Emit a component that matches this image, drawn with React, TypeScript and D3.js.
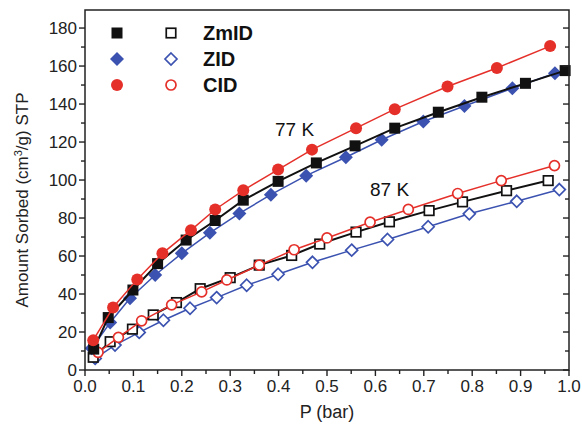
import React from "react";
import * as d3 from "d3";

const zmid77P = [0.018, 0.048, 0.099, 0.150, 0.209, 0.269, 0.327, 0.399, 0.478, 0.558, 0.640, 0.730, 0.820, 0.910, 0.992];
const zmid77V = [11, 27.6, 42.1, 56, 68.4, 78.7, 89.4, 99.3, 109, 118, 127.3, 135.7, 143.6, 150.9, 157.6];
const zid77P = [0.014, 0.052, 0.093, 0.145, 0.200, 0.258, 0.319, 0.384, 0.457, 0.539, 0.613, 0.699, 0.784, 0.883, 0.971];
const zid77V = [11.4, 25, 37.8, 50, 61.4, 72.2, 82.4, 92.3, 102.3, 112, 121.2, 130.8, 139, 148.3, 156.2];
const cid77P = [0.017, 0.058, 0.108, 0.160, 0.219, 0.269, 0.327, 0.399, 0.469, 0.560, 0.640, 0.749, 0.851, 0.961];
const cid77V = [15.7, 32.9, 47.7, 61.4, 73.6, 84.5, 94.6, 105.5, 116, 127.3, 137.3, 149.2, 159, 170.5];

const zmid87P = [0.017, 0.052, 0.098, 0.141, 0.189, 0.238, 0.300, 0.360, 0.427, 0.485, 0.560, 0.629, 0.711, 0.780, 0.871, 0.957];
const zmid87V = [6.7, 14.9, 21.5, 29, 35.5, 42.8, 48.6, 55.2, 60.3, 66.3, 72.6, 78, 83.9, 88.5, 94.4, 99.7];
const zid87P = [0.021, 0.062, 0.112, 0.162, 0.217, 0.272, 0.334, 0.399, 0.470, 0.551, 0.625, 0.709, 0.794, 0.892, 0.980];
const zid87V = [6.1, 13.1, 19.8, 26.2, 32.5, 38.1, 44.6, 50.4, 56.7, 63.1, 68.7, 75.4, 82.2, 88.8, 95];
const cid87P = [0.027, 0.069, 0.117, 0.179, 0.241, 0.293, 0.360, 0.432, 0.500, 0.589, 0.668, 0.770, 0.860, 0.970];
const cid87V = [9.3, 17.2, 25.9, 34.3, 41.1, 47.4, 55.2, 63.3, 69.5, 77.8, 84.5, 92.9, 99.7, 107.6];

const xTicks = [0, 0.1, 0.2, 0.3, 0.4, 0.5, 0.6, 0.7, 0.8, 0.9, 1.0];
const yTicks = [0, 20, 40, 60, 80, 100, 120, 140, 160, 180];
const legendNames = ["ZmID", "ZID", "CID"];

const BLACK = "#111";
const BLUE = "#3b52b0";
const RED = "#e5302a";

type Shape = "square" | "diamond" | "circle";

const W = 582, H = 428;
const L = 85, R = 569, T = 10, B = 370;

const x = d3.scaleLinear().domain([0, 1]).range([L, R]);
const y = d3.scaleLinear().domain([0, 189.5]).range([B, T]);

function Marker({ cx, cy, shape, color, filled }: { cx: number; cy: number; shape: Shape; color: string; filled: boolean }) {
  const fill = filled ? color : "#fff";
  const sw = filled ? 0 : 1.7;
  if (shape === "square") {
    const s = filled ? 11 : 9.5;
    return <rect x={cx - s / 2} y={cy - s / 2} width={s} height={s} fill={fill} stroke={color} strokeWidth={sw} />;
  }
  if (shape === "diamond") {
    const r = filled ? 7 : 6;
    return <polygon points={`${cx},${cy - r} ${cx + r},${cy} ${cx},${cy + r} ${cx - r},${cy}`} fill={fill} stroke={color} strokeWidth={sw} />;
  }
  const r = filled ? 6 : 5;
  return <circle cx={cx} cy={cy} r={r} fill={fill} stroke={color} strokeWidth={sw} />;
}

function Series({ P, V, shape, color, filled, lw }: { P: number[]; V: number[]; shape: Shape; color: string; filled: boolean; lw: number }) {
  const pts: [number, number][] = P.map((p, i) => [x(p), y(V[i])]);
  const line = d3.line().curve(d3.curveLinear)(pts) || "";
  return (
    <g>
      <path d={line} fill="none" stroke={color} strokeWidth={lw} />
      {pts.map((pt, i) => (
        <Marker key={i} cx={pt[0]} cy={pt[1]} shape={shape} color={color} filled={filled} />
      ))}
    </g>
  );
}

export default function App() {
  const minorX = d3.range(0, 1.0001, 0.05);
  const minorY = d3.range(0, 189, 10);
  const font = "Liberation Sans, Arial, sans-serif";
  return (
    <svg width={W} height={H} style={{ position: "absolute", left: 0, top: 0, background: "#fff" }} fontFamily={font}>
      <rect x={0} y={0} width={W} height={H} fill="#fff" />
      {/* series */}
      <Series P={zid87P} V={zid87V} shape="diamond" color={BLUE} filled={false} lw={1.5} />
      <Series P={zmid87P} V={zmid87V} shape="square" color={BLACK} filled={false} lw={2} />
      <Series P={cid87P} V={cid87V} shape="circle" color={RED} filled={false} lw={1.5} />
      <Series P={zid77P} V={zid77V} shape="diamond" color={BLUE} filled={true} lw={1.5} />
      <Series P={zmid77P} V={zmid77V} shape="square" color={BLACK} filled={true} lw={2} />
      <Series P={cid77P} V={cid77V} shape="circle" color={RED} filled={true} lw={1.5} />

      {/* frame */}
      <rect x={L} y={T} width={R - L} height={B - T} fill="none" stroke="#222" strokeWidth={1.5} />

      {/* x ticks */}
      {minorX.map((v, i) => (
        <line key={"xm" + i} x1={x(v)} x2={x(v)} y1={B} y2={B + (i % 2 === 0 ? 6 : 4)} stroke="#222" strokeWidth={1.4} />
      ))}
      {xTicks.map((v, i) => (
        <text key={"xt" + i} x={x(v)} y={B + 22} fontSize={17} textAnchor="middle" fill="#222">
          {v.toFixed(1)}
        </text>
      ))}
      {/* y ticks */}
      {minorY.map((v, i) => (
        <g key={"ym" + i}>
          <line x1={L} x2={L - (i % 2 === 0 ? 6 : 4)} y1={y(v)} y2={y(v)} stroke="#222" strokeWidth={1.4} />
          <line x1={R} x2={R - (i % 2 === 0 ? 6 : 4)} y1={y(v)} y2={y(v)} stroke="#222" strokeWidth={1.4} />
        </g>
      ))}
      {yTicks.map((v, i) => (
        <text key={"yt" + i} x={L - 8} y={y(v) + 6} fontSize={17} textAnchor="end" fill="#222">
          {v}
        </text>
      ))}

      {/* axis titles */}
      <text x={(L + R) / 2} y={418} fontSize={18} textAnchor="middle" fill="#222">P (bar)</text>
      <text transform={`translate(28, ${(T + B) / 2 + 10}) rotate(-90)`} fontSize={17} textAnchor="middle" fill="#222">
        Amount Sorbed (cm<tspan baselineShift="super" fontSize={11}>3</tspan>/g) STP
      </text>

      {/* legend */}
      {legendNames.map((name, i) => {
        const shape: Shape = i === 0 ? "square" : i === 1 ? "diamond" : "circle";
        const color = i === 0 ? BLACK : i === 1 ? BLUE : RED;
        const ly = 33 + i * 26;
        return (
          <g key={name}>
            <Marker cx={117} cy={ly} shape={shape} color={color} filled={true} />
            <Marker cx={171} cy={ly} shape={shape} color={color} filled={false} />
            <text x={203} y={ly + 7} fontSize={20} fontWeight="bold" fill="#111">{name}</text>
          </g>
        );
      })}

      {/* annotations */}
      <text x={275} y={136} fontSize={19} fill="#111">77 K</text>
      <text x={370} y={196} fontSize={19} fill="#111">87 K</text>
    </svg>
  );
}
